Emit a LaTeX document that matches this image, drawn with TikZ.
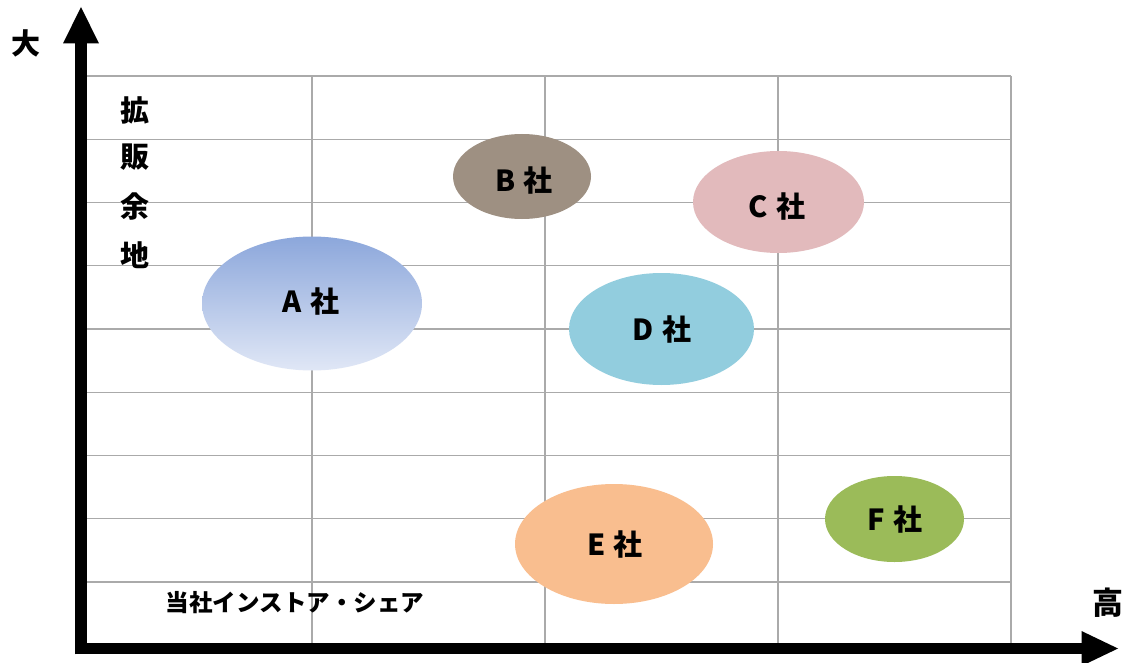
\documentclass[tikz,border=0pt]{standalone}
\usepackage{fontspec}
\setmainfont{Noto Sans CJK JP}
\definecolor{gridgray}{RGB}{170,170,170}
\definecolor{aTop}{RGB}{140,167,219}
\definecolor{aBot}{RGB}{224,231,246}
\definecolor{bCol}{RGB}{158,144,130}
\definecolor{cCol}{RGB}{226,186,188}
\definecolor{dCol}{RGB}{146,205,222}
\definecolor{eCol}{RGB}{249,190,143}
\definecolor{fCol}{RGB}{155,187,89}
\newcommand{\co}[1]{#1\hspace{0.28em}社}
\begin{document}
\begin{tikzpicture}[x=1pt,y=-1pt,
  gridline/.style={draw=gridgray,line width=1.4pt},
  axisline/.style={line width=11.5pt,draw=black},
  axishead/.style={fill=black},
  lbl/.style={font=\bfseries\fontsize{29}{29}\selectfont,text=black},
  axlbl/.style={font=\bfseries\fontsize{23.5}{24}\selectfont,text=black},
  vlbl/.style={font=\bfseries\fontsize{29}{29}\selectfont,text=black}]
\useasboundingbox (0,0) rectangle (1129,663);
\fill[white] (0,0) rectangle (1129,663);
% grid
\foreach \yy in {76,139.25,202.5,265.75,329,392.25,455.5,518.75,582}
  \draw[gridline] (87,\yy) -- (1011,\yy);
\foreach \xx in {312,545,778,1011}
  \draw[gridline] (\xx,76) -- (\xx,643);
% axes
\coordinate (O) at (81,648.5);
\coordinate (ybase) at (81,43);
\coordinate (ytip) at (81,7);
\coordinate (xbase) at (1082,648.5);
\coordinate (xtip) at (1118,648.5);
\draw[axisline] (81,654.25) -- (ybase);
\draw[axisline] (75.25,648.5) -- (xbase);
\fill[axishead] (63,43.5) -- (ytip) -- (99,43.5) -- cycle;
\fill[axishead] (1081.5,631) -- (xtip) -- (1081.5,666) -- cycle;
% bubbles
\shade[top color=aTop,bottom color=aBot]
  (312,303.5) ellipse [x radius=110,y radius=67];
\fill[bCol] (522,176.5) ellipse [x radius=69,y radius=42.5];
\fill[cCol] (778.5,202) ellipse [x radius=85.5,y radius=51];
\fill[dCol] (661.5,329) ellipse [x radius=92.5,y radius=56];
\fill[eCol] (614,544) ellipse [x radius=99,y radius=60];
\fill[fCol] (894.5,519) ellipse [x radius=69.5,y radius=43];
% labels
\node[lbl] (A) at (311,302) {\co{A}};
\node[lbl] (B) at (524,181) {\co{B}};
\node[lbl] (C) at (777,207) {\co{C}};
\node[lbl] (D) at (662,330) {\co{D}};
\node[lbl] (E) at (615,545) {\co{E}};
\node[lbl] (F) at (895,519.5) {\co{F}};
% axis texts
\node[font=\bfseries\fontsize{29}{29}\selectfont] (dai) at (26.5,43) {大};
\node[font=\bfseries\fontsize{31}{31}\selectfont] (kou) at (1107.5,603) {高};
\node[vlbl] (k1) at (135,110) {拡};
\node[vlbl] (k2) at (135,157.5) {販};
\node[vlbl] (k3) at (135,206.5) {余};
\node[vlbl] (k4) at (135,255.5) {地};
\node[axlbl] (share) at (295,602.5) {当社インストア・シェア};
\end{tikzpicture}
\end{document}
